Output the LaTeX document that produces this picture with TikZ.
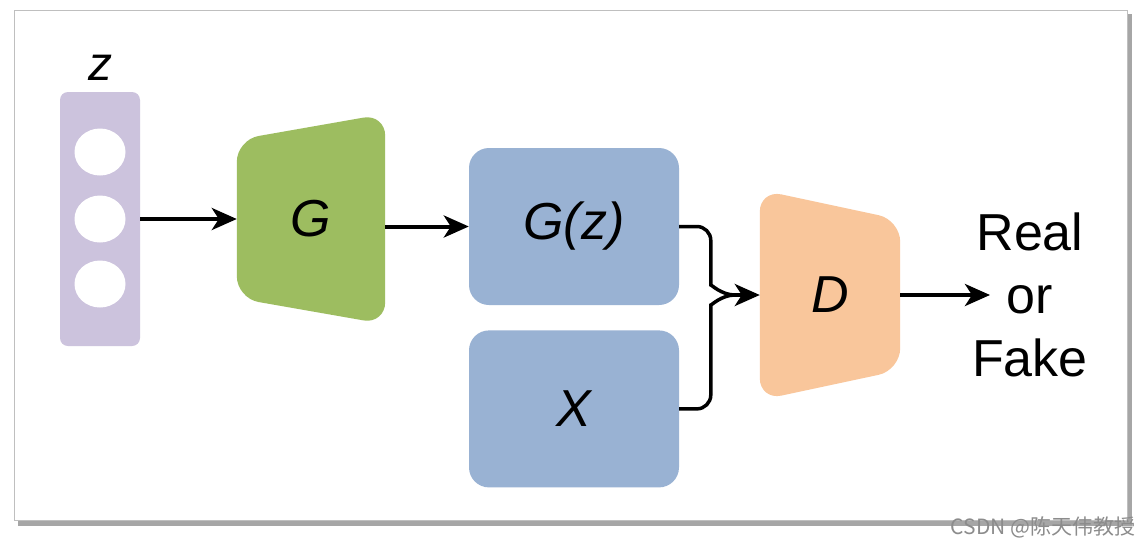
\documentclass[tikz,border=0pt]{standalone}
\usepackage{fontspec}
\setmainfont{Liberation Sans}
\newfontfamily\cjkfont{Noto Sans CJK SC}
\usetikzlibrary{positioning, arrows.meta, shapes.geometric, backgrounds}

\definecolor{zpurple}{RGB}{204,195,221}
\definecolor{gengreen}{RGB}{157,189,96}
\definecolor{boxblue}{RGB}{153,178,211}
\definecolor{discpeach}{RGB}{249,198,155}

\begin{document}
\begin{tikzpicture}[x=1pt, y=-1pt,
	every node/.style={font=\fontsize{52}{63}\selectfont},
	box/.style={rectangle, rounded corners=20pt, fill=boxblue, minimum width=210pt, minimum height=157pt, font=\fontsize{52}{63}\selectfont\itshape},
	net/.style={rectangle, minimum width=148pt, minimum height=210pt, font=\fontsize{52}{63}\selectfont\itshape},
	unit/.style={ellipse, fill=white, minimum width=51pt, minimum height=47pt, inner sep=0pt},
	arr/.style={line width=4pt, -{Stealth[length=25pt, width=22pt, inset=7pt]}},
	link/.style={line width=3.5pt}]
	\useasboundingbox (0,0) rectangle (1143,547);
	
	\node[fill=zpurple, rounded corners=8pt, minimum width=80pt, minimum height=254pt] (zbar) at (100,219) {};
	\foreach \y [count=\i] in {152,219,284}
		\node[unit] (u\i) at (100,\y) {};
	\node[anchor=base, font=\fontsize{48}{58}\selectfont\itshape] (zlab) at (100,80) {z};
	
	\node[net] (gen) at (311,219) {G};
	\node[box] (gz) at (574,226.5) {G(z)};
	\node[box, below=25pt of gz] (xr) {X};
	\node[net, minimum width=140pt] (disc) at (830,295) {D};
	\node[align=center] (out) at (1030,295) {Real\\or\\Fake};
	\node[font=\cjkfont\fontsize{21}{21}\selectfont, text=black!45, anchor=east] (mark) at (1139,527) {CSDN @陈天伟教授};
	
	% frame and network bodies
	\begin{scope}[on background layer]
		\fill[black!35] (18,14) rectangle (1132,526);
		\fill[white, draw=black!25] (14,10) rectangle (1127,520);
		\fill[gengreen, rounded corners=22pt] (gen.north east) -- (gen.south east) -- ([yshift=26pt]gen.south west) -- ([yshift=-26pt]gen.north west) -- cycle;
		\fill[discpeach, rounded corners=22pt] (disc.north west) -- ([yshift=-30pt]disc.north east) -- ([yshift=30pt]disc.south east) -- (disc.south west) -- cycle;
	\end{scope}
	
	\coordinate (mid) at ([xshift=-49pt]disc.west);
	\draw[arr] (zbar.east) -- (gen.west);
	\draw[arr] (gen.east |- gz.west) -- (gz.west);
	\draw[link] [rounded corners=14pt] (gz.east) -| ([yshift=24pt]mid) [sharp corners] to[out=-90, in=180] ([xshift=24pt]mid);
	\draw[link] [rounded corners=14pt] (xr.east) -| ([yshift=-24pt]mid) [sharp corners] to[out=90, in=180] ([xshift=24pt]mid);
	\draw[arr] ([xshift=22pt]mid) -- (disc.west);
	\draw[arr] (disc.east) -- ([xshift=-40pt]out.center);
\end{tikzpicture}
\end{document}
